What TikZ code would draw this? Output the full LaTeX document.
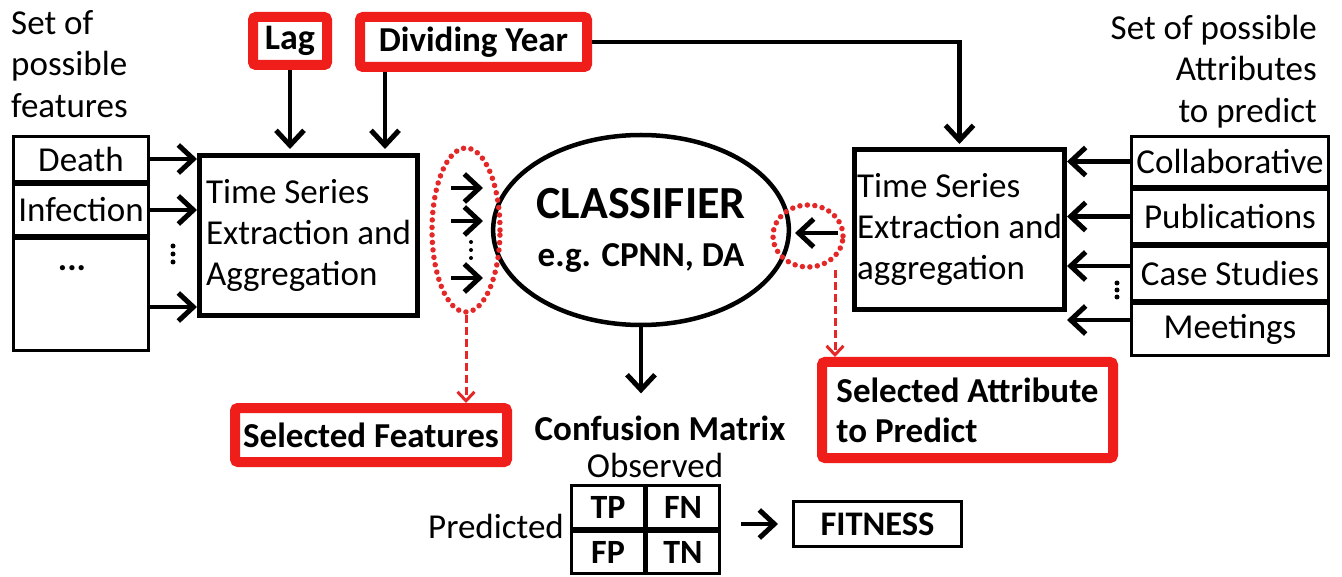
\documentclass[tikz,border=0pt]{standalone}
\usepackage{fontspec}
\setmainfont{Carlito}
\usetikzlibrary{arrows.meta,shapes.geometric,calc}
\definecolor{boxred}{RGB}{240,30,26}
\definecolor{dotred}{RGB}{228,40,40}

\begin{document}
\begin{tikzpicture}[x=1pt,y=-1pt,
  txt/.style={font=\fontsize{35}{41.5}\selectfont, inner sep=0pt},
  cmtext/.style={font=\fontsize{35}{41}\selectfont\bfseries, inner sep=0pt},
  listbox/.style={draw, line width=3pt, inner sep=0pt, minimum width=#1,
    font=\fontsize{35}{40}\selectfont},
  cell/.style={draw, line width=3pt, inner sep=0pt, minimum width=73pt,
    font=\fontsize{34}{38}\selectfont\bfseries},
  tsbox/.style={draw, line width=5pt, inner sep=0pt, align=left,
    font=\fontsize{35}{41}\selectfont},
  redbox/.style={draw=boxred, line width=10pt, rounded corners=3pt, fill=white,
    inner sep=0pt, font=\fontsize{35}{40}\selectfont\bfseries},
  arr/.style={line width=4.5pt, -{Straight Barb[length=15pt,width=28pt,line width=5pt]}},
  redarr/.style={draw=dotred, line width=3pt, dash pattern=on 8pt off 4pt,
    -{Straight Barb[length=9pt,width=17pt]}},
  dotring/.style={ellipse, draw=dotred, line width=5.5pt,
    dash pattern=on 0pt off 7.5pt, line cap=round, inner sep=0pt},
  vdot/.style={circle, fill, inner sep=0pt, minimum size=5pt},
]
\fill[white] (0,0) rectangle (1342,577);
\useasboundingbox (0,0) rectangle (1342,577);

% ---- headings of the two input sets
\node[txt, align=left, anchor=north west] (setF) at (11,10) {Set of\\possible\\features};
\node[txt, align=right, anchor=north east] (setA) at (1317,15) {Set of possible\\Attributes\\to predict};

% ---- feature list (left)
\node[listbox=135pt, minimum height=45pt] (death) at (81,159) {Death};
\node[listbox=135pt, minimum height=51pt] (infect) at (81,210) {Infection};
\node[listbox=135pt, minimum height=112pt] (more) at (81,294.5) {};
\node[txt, font=\fontsize{35}{40}\selectfont\bfseries] (moredots) at (72,268) {...};

% ---- attribute list (right)
\node[listbox=197pt, minimum height=50pt] (collab) at (1230,161.5) {Collaborative};
\node[listbox=197pt, minimum height=54pt] (pub) at (1230,216.5) {Publications};
\node[listbox=197pt, minimum height=54pt] (case) at (1230,273.5) {Case Studies};
\node[listbox=197pt, minimum height=52pt] (meet) at (1230,329.5) {Meetings};

% ---- time series boxes
\node[tsbox, minimum width=218pt, minimum height=160pt] (tsL) at (308.5,235.5)
  {Time Series\\Extraction and\\Aggregation};
\node[tsbox, minimum width=210pt, minimum height=160pt] (tsR) at (959.5,229.5)
  {Time Series\\Extraction and\\aggregation};

% ---- parameters
\node[redbox, minimum width=74pt, minimum height=48pt,
  font=\fontsize{36}{40}\selectfont\bfseries] (lag) at (290,41) {Lag};
\node[redbox, minimum width=227pt, minimum height=50pt] (dy) at (473.5,42) {Dividing Year};

% ---- classifier
\node[ellipse, draw, line width=4.5pt, minimum width=248pt, minimum height=190pt,
  inner sep=0pt, align=center, font=\fontsize{35}{44}\selectfont\bfseries] (clf) at (641,230)
  {{\fontsize{46}{46}\selectfont CLASSIFIER}\\[4pt] e.g. CPNN, DA};

% ---- selections
\node[dotring, minimum width=68pt, minimum height=164pt] (selL) at (466,230) {};
\node[dotring, minimum width=70pt, minimum height=62pt] (selR) at (808,236) {};
\node[redbox, minimum width=272pt, minimum height=54pt] (selF) at (371,435) {Selected Features};
\node[redbox, minimum width=291pt, minimum height=96pt, align=left] (selA) at (967.5,410)
  {Selected Attribute\\to Predict};

% ---- confusion matrix and fitness
\node[cmtext] (cmat) at (660,428) {Confusion Matrix};
\node[txt] (obs) at (655,465) {Observed};
\node[cell, minimum height=43pt] (tp) at (608,507) {TP};
\node[cell, minimum height=43pt] (fn) at (683,507) {FN};
\node[cell, minimum height=42pt] (fp) at (608,552.5) {FP};
\node[cell, minimum height=42pt] (tn) at (683,552.5) {TN};
\node[txt, anchor=east] (pred) at (564,526) {Predicted};
\node[draw, line width=3pt, minimum width=168pt, minimum height=45pt, inner sep=0pt,
  font=\fontsize{34.5}{38}\selectfont\bfseries] (fit) at (877.5,524) {FITNESS};

% ---- connectors
\draw[arr] (death.east) -- (tsL.west |- death.east);
\draw[arr] (infect.east) -- (tsL.west |- infect.east);
\draw[arr] (more.east |- 0,307) -- (tsL.west |- 0,307);
\foreach \y in {246,254,262} \node[vdot] at (173,\y) {};

\draw[arr, shorten >=4pt] (lag.south) -- (lag.south |- tsL.north);
\draw[arr, shorten >=4pt] (dy.south -| 385,0) -- (385,0 |- tsL.north);
\draw[arr, shorten >=3pt] (dy.east) -| (tsR.north);

\draw[arr] (collab.west) -- (tsR.east |- collab.west);
\draw[arr] (pub.west) -- (tsR.east |- pub.west);
\draw[arr] (case.west |- 0,266) -- (tsR.east |- 0,266);
\draw[arr] (meet.west |- 0,320) -- (tsR.east |- 0,320);
\foreach \y in {283,290,297} \node[vdot] at (1117,\y) {};

% features passed to the classifier
\foreach \y in {188,221,278} \draw[arr, line width=4pt] (451,\y) -- ++(32,0);
\foreach \y in {242,250,258} \node[vdot, minimum size=4pt] at (471,\y) {};
% attribute passed to the classifier
\draw[arr, line width=4pt] (838,233) -- (795,233);

\draw[redarr] (selL.south) -- (selL.south |- selF.north);
\draw[redarr] ([xshift=27pt]selR.south) -- ([xshift=27pt]selR.south |- selA.north);

\draw[arr, shorten >=22pt] (clf.south) -- (clf.south |- cmat.north);
\draw[arr, shorten >=14pt] ([xshift=20pt]fn.east |- fit.west) -- (fit.west);
\end{tikzpicture}
\end{document}
